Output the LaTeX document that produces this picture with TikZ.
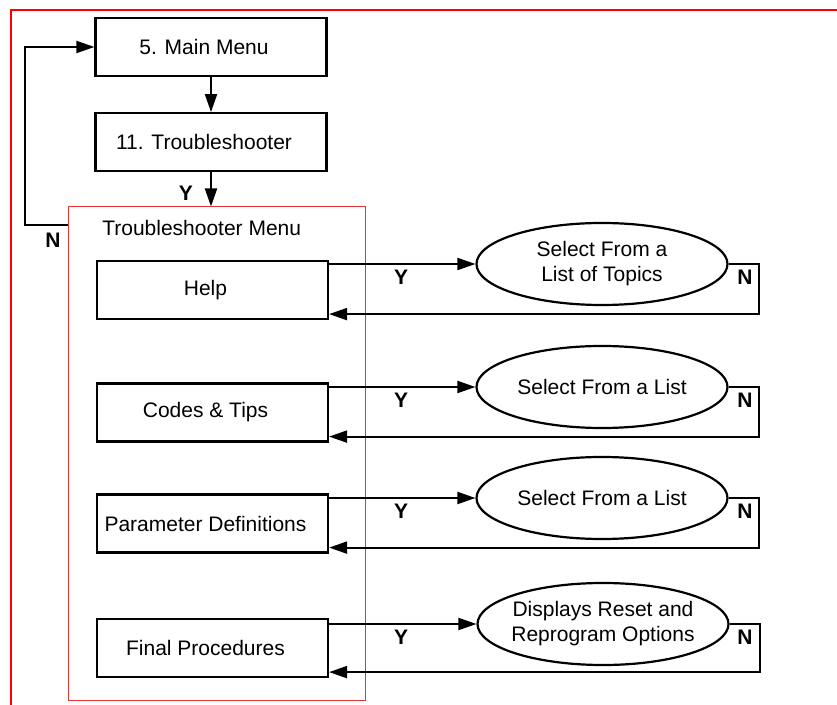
\documentclass[tikz,border=0pt]{standalone}
\usepackage{fontspec}
\setmainfont{Liberation Sans}
\usetikzlibrary{arrows.meta,shapes.geometric,positioning}
\definecolor{framered}{RGB}{255,0,0}
\definecolor{menured}{RGB}{232,52,52}

\begin{document}
\begin{tikzpicture}[x=1pt, y=1pt,
	box/.style={draw, line width=2.2pt, minimum width=231pt, minimum height=58pt, inner sep=0pt, font=\fontsize{21}{25}\selectfont, execute at end node=\hspace*{14pt}},
	choice/.style={ellipse, draw, line width=2.2pt, minimum width=251pt, minimum height=82pt, inner ysep=0pt, inner xsep=-12pt, align=center, font=\fontsize{21}{25}\selectfont},
	flow/.style={line width=2pt, -{Triangle[length=18pt,width=12pt]}},
	yn/.style={font=\bfseries\fontsize{21}{25}\selectfont}]
		\useasboundingbox (0, 0) rectangle (837, 704);
		\draw [framered, line width=2.5pt] (11, -10) -- (11, 694) -- (850, 694);
		%top part
		\node[box] (main) at (211, 657) {5. Main Menu};
		\node[box, below=35pt of main] (troub) {11. Troubleshooter};
		\node[draw=menured, line width=1pt, minimum width=297pt, minimum height=493pt, inner sep=0pt] (menu) at (216.5, 250.5) {};
		\node[font=\fontsize{21}{25}\selectfont] (menutitle) at (201.7, 476) {Troubleshooter Menu};
		\draw[flow] (main) -- (troub);
		\draw[flow] (troub.south) -- (troub.south |- menu.north);
		\node[yn] (ytroub) at (186, 511) {Y};
		\draw[flow] ([yshift=-19pt]menu.north west) -- ++(-43, 0) |- (main.west);
		\node[yn] (nmenu) at (53, 464) {N};
		%menu entries
		\node[box] (help) at (212.5, 414) {Help};
		\node[box] (codes) at (212.5, 291.5) {Codes \& Tips};
		\node[box] (param) at (212.5, 180.5) {Parameter Definitions};
		\node[box] (final) at (212.5, 56) {Final Procedures};
		\node[choice] (topics) at (602, 440) {Select From a\\List of Topics};
		\node[choice] (list1) at (602, 317) {Select From a List};
		\node[choice] (list2) at (602, 206) {Select From a List};
		\node[choice] (reset) at (603, 80) {Displays Reset and\\Reprogram Options};
		\foreach \b/\e in {help/topics, codes/list1, param/list2, final/reset} {
			\draw[flow] (\b.east |- \e.west) -- (\e.west);
			\draw[flow] (\e.east) -- ++(30.5, 0) |- ([yshift=6pt]\b.south east);
			\node[yn] at ([yshift=-13pt]\e.west -| 401, 0) {Y};
			\node[yn] at ([yshift=-13pt]\e.west -| 745, 0) {N};
		}
	\end{tikzpicture}
\end{document}
